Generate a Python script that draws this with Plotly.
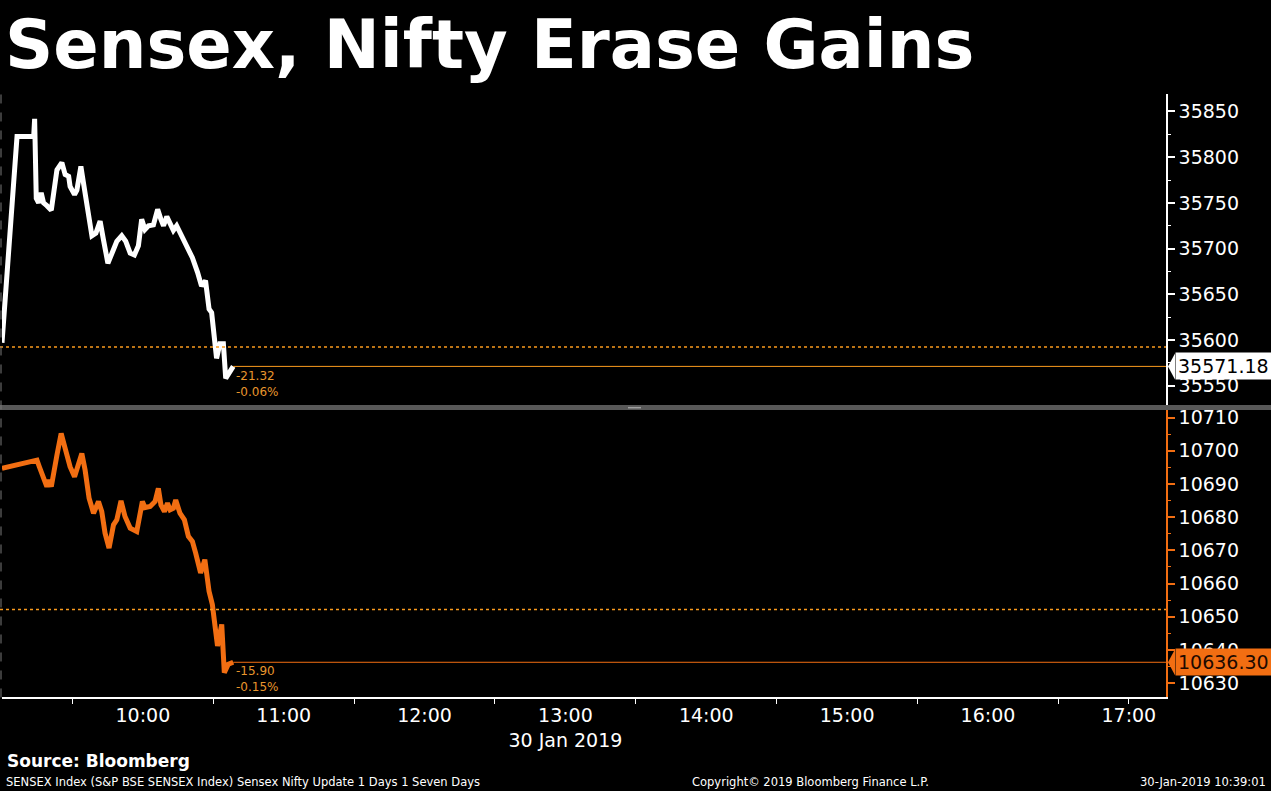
import plotly.graph_objects as go

DATE = "2019-01-30"

# ---- data ----
sensex_times = ["09:00:00", "09:06:24", "09:13:30", "09:13:54", "09:14:36", "09:15:36", "09:16:42",
                "09:17:42", "09:19:06", "09:21:00", "09:23:24", "09:25:30", "09:26:54", "09:28:24",
                "09:29:00", "09:30:54", "09:31:54", "09:33:36", "09:34:42", "09:36:36", "09:38:18",
                "09:40:00", "09:41:48", "09:43:12", "09:45:06", "09:47:30", "09:48:54", "09:51:00",
                "09:52:42", "09:54:36", "09:56:24", "09:58:06", "09:59:30", "10:00:54", "10:02:24",
                "10:04:30", "10:06:18", "10:07:42", "10:08:48", "10:10:12", "10:11:36", "10:13:00",
                "10:14:24", "10:16:30", "10:17:42", "10:19:24", "10:21:06", "10:23:18", "10:25:00",
                "10:26:42", "10:28:12", "10:29:18", "10:31:24", "10:32:48", "10:34:18", "10:35:18",
                "10:38:30"]
sensex_vals = [35597, 35822.5, 35822.5, 35842, 35755, 35750, 35761,
               35750, 35747, 35742, 35786, 35794, 35781, 35779,
               35768, 35759, 35764, 35790, 35772, 35743, 35714,
               35717, 35730, 35710, 35684, 35699, 35708, 35714,
               35708, 35695, 35693, 35703, 35732, 35721, 35725,
               35726, 35743, 35732, 35725, 35735, 35726, 35720,
               35725, 35714, 35705, 35699, 35690, 35674, 35659,
               35665, 35634, 35630, 35580, 35596, 35596, 35558,
               35571.18]

nifty_times = ["09:00:00", "09:14:54", "09:15:54", "09:17:42", "09:19:06", "09:19:54", "09:21:00",
               "09:23:24", "09:25:12", "09:26:54", "09:29:00", "09:30:54", "09:31:54", "09:34:00",
               "09:35:24", "09:37:06", "09:39:00", "09:41:06", "09:42:30", "09:43:54", "09:45:36",
               "09:47:30", "09:48:54", "09:50:42", "09:52:24", "09:54:36", "09:57:24", "09:58:48",
               "09:59:48", "10:00:54", "10:03:06", "10:05:12", "10:06:36", "10:07:42", "10:09:12",
               "10:10:30", "10:11:36", "10:13:00", "10:14:00", "10:15:48", "10:17:42", "10:19:24",
               "10:21:06", "10:22:30", "10:24:36", "10:26:24", "10:28:12", "10:29:36", "10:31:48",
               "10:33:36", "10:34:42", "10:36:24", "10:38:30"]
nifty_vals = [10694.7, 10697.2, 10695.2, 10691.7, 10689.2, 10691.2, 10689.2,
              10698.7, 10705.2, 10700.7, 10695.2, 10692.2, 10694.7, 10699.2,
              10694.2, 10685.7, 10681.2, 10684.7, 10681.7, 10675.2, 10670.7,
              10677.7, 10679.2, 10684.9, 10680.2, 10676.7, 10675.7, 10680.2,
              10684.7, 10682.9, 10683.2, 10684.7, 10688.7, 10683.7, 10681.7,
              10684.2, 10682.2, 10682.7, 10685.2, 10681.2, 10679.2, 10674.2,
              10672.7, 10669.2, 10663.2, 10667.2, 10657.7, 10653.7, 10641.2,
              10647.7, 10633.2, 10635.7, 10636.3]

sensex_prev_close = 35592.50
nifty_prev_close = 10652.20

hour_labels = ["10:00", "11:00", "12:00", "13:00", "14:00", "15:00", "16:00", "17:00"]
half_hour_ticks = ["09:30", "10:30", "11:30", "12:30", "13:30", "14:30", "15:30", "16:30", "17:00"]
sensex_ticks = [35550, 35600, 35650, 35700, 35750, 35800, 35850]
sensex_minor = [35575, 35625, 35675, 35725, 35775, 35825]
nifty_ticks = [10630, 10640, 10650, 10660, 10670, 10680, 10690, 10700, 10710]
nifty_minor = [10635, 10645, 10655, 10665, 10675, 10685, 10695, 10705]

title_text = "Sensex, Nifty Erase Gains"
date_label = "30 Jan 2019"
source_text = "Source: Bloomberg"
footer_left = "SENSEX Index (S&P BSE SENSEX Index) Sensex Nifty Update 1 Days 1 Seven Days"
footer_mid = "Copyright\u00a9 2019 Bloomberg Finance L.P."
footer_right = "30-Jan-2019 10:39:01"

# ---- styling ----
W, H = 1271, 791
FONT = "Tahoma, 'DejaVu Sans', sans-serif"
ORANGE = "rgb(242,110,18)"
DOT_ORANGE = "rgb(250,155,30)"
TXT_ORANGE = "rgb(232,150,45)"
X_START = f"{DATE} 09:00:00"
X_END = f"{DATE} 17:15:50"


def px_x(p):
    return p / W


def px_y(p):
    return 1 - p / H


X0, X1 = px_x(2), px_x(1166)

fig = go.Figure()
fig.add_trace(go.Scatter(x=[f"{DATE} {t}" for t in sensex_times], y=sensex_vals, mode="lines",
                         line=dict(color="white", width=5), xaxis="x", yaxis="y", hoverinfo="skip"))
fig.add_trace(go.Scatter(x=[f"{DATE} {t}" for t in nifty_times], y=nifty_vals, mode="lines",
                         line=dict(color=ORANGE, width=5), xaxis="x2", yaxis="y2", hoverinfo="skip"))

tickfont = dict(family=FONT, size=19, color="white")

fig.update_layout(
    width=W, height=H, margin=dict(l=0, r=0, t=0, b=0),
    paper_bgcolor="black", plot_bgcolor="black", showlegend=False,
    xaxis=dict(domain=[X0, X1], anchor="y", range=[X_START, X_END], showticklabels=False,
               showgrid=False, zeroline=False, ticks="", showline=False),
    xaxis2=dict(domain=[X0, X1], anchor="y2", range=[X_START, X_END],
                tickmode="array",
                tickvals=[f"{DATE} {h}" for h in hour_labels],
                ticktext=[h + ("<br>" + date_label if h == "13:00" else "") for h in hour_labels],
                ticks="", showgrid=False, zeroline=False,
                showline=True, linecolor="white", linewidth=1.5, tickfont=tickfont,
                minor=dict(tickmode="array", tickvals=[f"{DATE} {h}" for h in half_hour_ticks],
                           ticks="outside", ticklen=5, tickwidth=1, tickcolor="white", showgrid=False)),
    yaxis=dict(domain=[px_y(403), px_y(90)], anchor="x", side="right", range=[35529, 35869.6],
               tickmode="array", tickvals=sensex_ticks, ticktext=[str(v) for v in sensex_ticks],
               ticks="outside", ticklen=7, tickwidth=2, tickcolor="white",
               showline=True, linecolor="white", linewidth=1.5, showgrid=False, zeroline=False,
               tickfont=tickfont,
               minor=dict(tickmode="array", tickvals=sensex_minor, ticks="outside", ticklen=3,
                          tickwidth=1, tickcolor="white", showgrid=False)),
    yaxis2=dict(domain=[px_y(697), px_y(408)], anchor="x2", side="right", range=[10625.7, 10712.3],
                tickmode="array", tickvals=nifty_ticks, ticktext=[str(v) for v in nifty_ticks],
                ticks="outside", ticklen=7, tickwidth=2, tickcolor=ORANGE,
                showline=True, linecolor=ORANGE, linewidth=1.5, showgrid=False, zeroline=False,
                tickfont=tickfont,
                minor=dict(tickmode="array", tickvals=nifty_minor, ticks="outside", ticklen=3,
                           tickwidth=1, tickcolor=ORANGE, showgrid=False)),
)

shapes = []
# previous close dotted lines
shapes.append(dict(type="line", xref="paper", x0=0, x1=X1, yref="y", y0=sensex_prev_close,
                   y1=sensex_prev_close, line=dict(color=DOT_ORANGE, width=1.5, dash="dot")))
shapes.append(dict(type="line", xref="paper", x0=0, x1=X1, yref="y2", y0=nifty_prev_close,
                   y1=nifty_prev_close, line=dict(color=DOT_ORANGE, width=1.5, dash="dot")))
# last value lines
shapes.append(dict(type="line", xref="x", x0=f"{DATE} {sensex_times[-1]}", x1=X_END, yref="y",
                   y0=sensex_vals[-1], y1=sensex_vals[-1], line=dict(color=DOT_ORANGE, width=1)))
shapes.append(dict(type="line", xref="x2", x0=f"{DATE} {nifty_times[-1]}", x1=X_END, yref="y2",
                   y0=nifty_vals[-1], y1=nifty_vals[-1], line=dict(color=ORANGE, width=1)))
# panel separator
shapes.append(dict(type="rect", xref="paper", yref="paper", x0=0, x1=1, y0=px_y(408), y1=px_y(403),
                   fillcolor="rgb(88,88,88)", line=dict(width=0), layer="above"))
shapes.append(dict(type="rect", xref="paper", yref="paper", x0=px_x(628), x1=px_x(641),
                   y0=px_y(406.5), y1=px_y(405), fillcolor="rgb(160,160,160)", line=dict(width=0),
                   layer="above"))
# left dashed edge
shapes.append(dict(type="line", xref="paper", yref="paper", x0=px_x(1), x1=px_x(1),
                   y0=px_y(697), y1=px_y(90), line=dict(color="rgb(120,120,120)", width=1, dash="dash")))
# last-value label pointers
shapes.append(dict(type="path", xref="paper", xsizemode="pixel", xanchor=X1,
                   yref="y", ysizemode="pixel", yanchor=sensex_vals[-1],
                   path="M 2,0 L 9,13 L 9,-13 Z", fillcolor="white", line=dict(width=0), layer="above"))
shapes.append(dict(type="path", xref="paper", xsizemode="pixel", xanchor=X1,
                   yref="y2", ysizemode="pixel", yanchor=nifty_vals[-1],
                   path="M 2,0 L 9,13 L 9,-13 Z", fillcolor=ORANGE, line=dict(width=0), layer="above"))
fig.update_layout(shapes=shapes)

s_chg = sensex_vals[-1] - sensex_prev_close
s_pct = s_chg / sensex_prev_close * 100
n_chg = nifty_vals[-1] - nifty_prev_close
n_pct = n_chg / nifty_prev_close * 100

ann = []
ann.append(dict(text=f"<b>{title_text}</b>", xref="paper", yref="paper", x=px_x(3), y=px_y(41),
                xanchor="left", yanchor="middle", showarrow=False,
                font=dict(family=FONT, size=67, color="white")))
# last value boxes
ann.append(dict(text=f"{sensex_vals[-1]:.2f}", xref="paper", yref="y", x=px_x(1175), y=sensex_vals[-1],
                xanchor="left", yanchor="middle", showarrow=False, bgcolor="white", borderpad=2,
                font=dict(family=FONT, size=19, color="black")))
ann.append(dict(text=f"{nifty_vals[-1]:.2f}", xref="paper", yref="y2", x=px_x(1175), y=nifty_vals[-1],
                xanchor="left", yanchor="middle", showarrow=False, bgcolor=ORANGE, borderpad=2,
                font=dict(family=FONT, size=19, color="rgb(30,10,0)")))
# change labels
for txt, ref, xv, yv, ys in [
    (f"{s_chg:.2f}", "y", sensex_times[-1], sensex_vals[-1], -10),
    (f"{s_pct:.2f}%", "y", sensex_times[-1], sensex_vals[-1], -26),
    (f"{n_chg:.2f}", "y2", nifty_times[-1], nifty_vals[-1], -9),
    (f"{n_pct:.2f}%", "y2", nifty_times[-1], nifty_vals[-1], -25),
]:
    ann.append(dict(text=txt, xref="x" if ref == "y" else "x2", yref=ref, x=f"{DATE} {xv}", y=yv,
                    xanchor="left", yanchor="middle", xshift=1, yshift=ys, showarrow=False,
                    font=dict(family=FONT, size=12, color=TXT_ORANGE)))
ann.append(dict(text=f"<b>{source_text}</b>", xref="paper", yref="paper", x=px_x(5), y=px_y(761),
                xanchor="left", yanchor="middle", showarrow=False,
                font=dict(family=FONT, size=17, color="white")))
ann.append(dict(text=footer_left, xref="paper", yref="paper", x=px_x(4), y=px_y(782),
                xanchor="left", yanchor="middle", showarrow=False,
                font=dict(family=FONT, size=11.5, color="white")))
ann.append(dict(text=footer_mid, xref="paper", yref="paper", x=px_x(810), y=px_y(782),
                xanchor="center", yanchor="middle", showarrow=False,
                font=dict(family=FONT, size=11.5, color="white")))
ann.append(dict(text=footer_right, xref="paper", yref="paper", x=px_x(1268), y=px_y(782),
                xanchor="right", yanchor="middle", showarrow=False,
                font=dict(family=FONT, size=11.5, color="white")))
fig.update_layout(annotations=ann)

fig.write_html("out.html", config={"displayModeBar": False},
               post_script="document.body.style.margin='0';document.body.style.overflow='hidden';"
                           "document.body.style.background='black';")
